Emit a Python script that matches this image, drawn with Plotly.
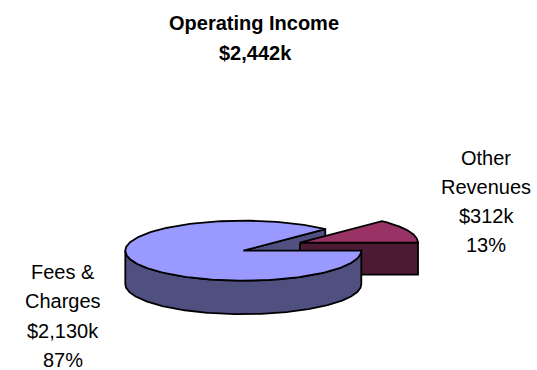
import numpy as np
import plotly.graph_objects as go

# ---- data ----
categories = ["Fees & Charges", "Other Revenues"]
label_lines = [["Fees &", "Charges"], ["Other", "Revenues"]]
values_k = [2130, 312]
title_text = "Operating Income"
total_k = sum(values_k)
shares = [v / total_k for v in values_k]

# ---- styling / geometry (pixel-like units) ----
W, H = 537, 370
cx, cy = 243.3, 250.7
rx, ry = 118.0, 30.0
depth = 33.5
explode = (56.7, -8.0)
TOP = ["#9999FF", "#993366"]
SIDE = ["#4F4F80", "#4D1A33"]
LINE = dict(color="black", width=1.8)


def pt(x0, y0, deg):
    r = np.deg2rad(deg)
    return x0 + rx * np.cos(r), y0 - ry * np.sin(r)


def arc(x0, y0, a0, a1, n=240):
    t = np.deg2rad(np.linspace(a0, a1, n))
    return list(x0 + rx * np.cos(t)), list(y0 - ry * np.sin(t))


a_other = 360.0 * shares[1]  # Other slice spans 0 -> a_other (counter-clockwise)

fig = go.Figure()


def poly(xs, ys, color):
    fig.add_trace(go.Scatter(x=list(xs) + [xs[0]], y=list(ys) + [ys[0]], mode="lines",
                             fill="toself", fillcolor=color, line=LINE,
                             hoverinfo="skip", showlegend=False))


# 1. main slice cut face at a_other
ex, ey = pt(cx, cy, a_other)
poly([cx, ex, ex, cx], [cy, ey, ey + depth, cy + depth], SIDE[0])

# 2. exploded slice front face (angle 0)
ox, oy = cx + explode[0], cy + explode[1]
poly([ox, ox + rx, ox + rx, ox], [oy, oy, oy + depth - 1.5, oy + depth - 1.5], SIDE[1])

# 3. exploded slice top
axs, ays = arc(ox, oy, 0, a_other)
poly([ox] + axs, [oy] + ays, TOP[1])

# 4. main slice outer side (front half)
tx, ty = arc(cx, cy, 180, 360)
bx, by = arc(cx, cy + depth, 360, 180)
poly(tx + bx, ty + by, SIDE[0])

# 5. main slice top
mxs, mys = arc(cx, cy, a_other, 360)
poly([cx] + mxs, [cy] + mys, TOP[0])

FONT = "Liberation Sans, Arial, sans-serif"
ann = []
# title
ann.append(dict(x=254, y=23, text="<b>" + title_text + "</b>", font=dict(family=FONT, size=20, color="black")))
ann.append(dict(x=255, y=53, text="<b>$" + f"{total_k:,}" + "k</b>", font=dict(family=FONT, size=20, color="black")))

label_pos = [(63, 272.0), (486, 157.5)]
step = 29.3
for i in range(2):
    lines = label_lines[i] + ["$" + f"{values_k[i]:,}" + "k", f"{round(shares[i] * 100)}%"]
    x0, y0 = label_pos[i]
    for j, ln in enumerate(lines):
        ann.append(dict(x=x0, y=y0 + j * step, text=ln, font=dict(family=FONT, size=20, color="black")))

for a in ann:
    a.update(xref="x", yref="y", showarrow=False, xanchor="center", yanchor="middle")

fig.update_layout(
    width=W, height=H, margin=dict(l=0, r=0, t=0, b=0),
    paper_bgcolor="white", plot_bgcolor="white",
    xaxis=dict(range=[0, W], visible=False, fixedrange=True),
    yaxis=dict(range=[H, 0], visible=False, fixedrange=True),
    annotations=ann, showlegend=False,
)

fig.write_html("out.html")
